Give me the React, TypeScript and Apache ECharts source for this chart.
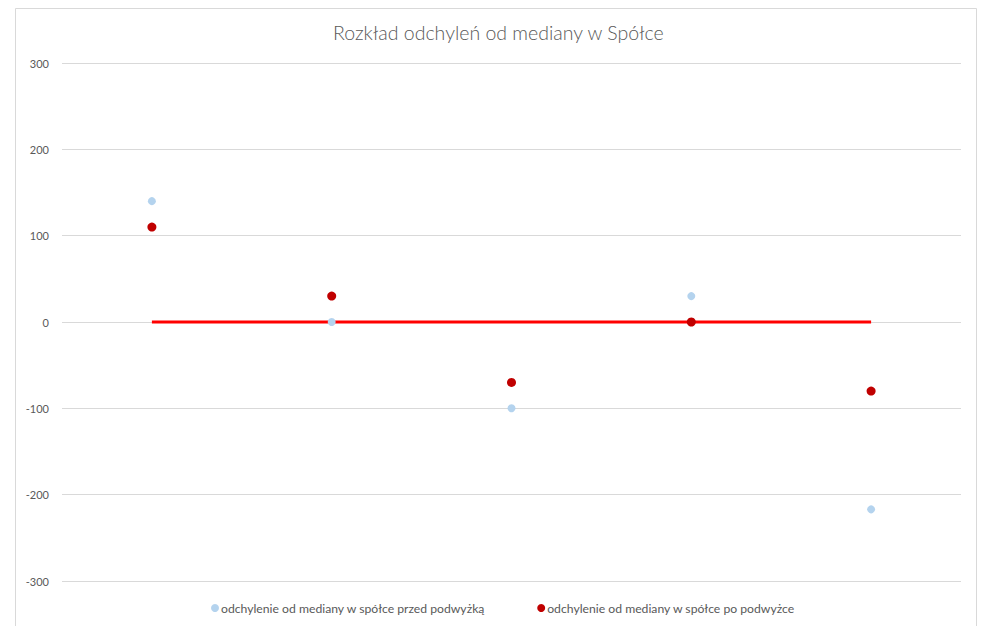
import React, { useEffect, useRef } from "react";
import * as echarts from "echarts";

const categories = ["1", "2", "3", "4", "5"];
const beforeRaise = [140, 0, -100, 30, -217];
const afterRaise = [110, 30, -70, 0, -80];
const medianLine = [0, 0, 0, 0, 0];
const yTicks = { min: -300, max: 300, interval: 100 };
const titleText = "Rozkład odchyleń od mediany w Spółce";
const seriesNames = [
  "odchylenie od mediany w spółce przed podwyżką",
  "odchylenie od mediany w spółce po podwyżce",
];

export default function App() {
  const ref = useRef<HTMLDivElement>(null);
  useEffect(() => {
    const chart = echarts.init(ref.current!, null, { renderer: "svg" });
    const font = "Lato, 'Open Sans', sans-serif";
    chart.setOption({
      animation: false,
      backgroundColor: "#ffffff",
      textStyle: { fontFamily: font },
      title: {
        text: titleText,
        left: 333,
        top: 22,
        padding: 0,
        textStyle: { fontFamily: font, fontSize: 19.5, fontWeight: 300, color: "#595959" },
      },
      graphic: [
        {
          type: "rect",
          shape: { x: 15.5, y: 8.5, width: 961, height: 640 },
          style: { fill: "none", stroke: "#d9d9d9", lineWidth: 1 },
          silent: true,
        },
      ],
      legend: {
        bottom: 7,
        left: 206,
        itemGap: 52,
        itemWidth: 8,
        itemHeight: 8,
        icon: "circle",
        textStyle: { fontFamily: font, fontSize: 12.2, color: "#595959", padding: [0, 0, 0, -3] },
        data: seriesNames,
      },
      grid: { left: 62, right: 21, top: 63, bottom: 45, containLabel: false },
      xAxis: {
        type: "category",
        data: categories,
        boundaryGap: true,
        axisLine: { show: false },
        axisTick: { show: false },
        axisLabel: { show: false },
        splitLine: { show: false },
      },
      yAxis: {
        type: "value",
        min: yTicks.min,
        max: yTicks.max,
        interval: yTicks.interval,
        axisLine: { show: false },
        axisTick: { show: false },
        axisLabel: { color: "#595959", fontSize: 11, fontFamily: font, margin: 13 },
        splitLine: { lineStyle: { color: "#d9d9d9", width: 1 } },
      },
      series: [
        {
          name: "median",
          type: "line",
          data: medianLine,
          symbol: "none",
          lineStyle: { color: "#ff0000", width: 3 },
          z: 1,
        },
        {
          name: seriesNames[0],
          type: "scatter",
          data: beforeRaise,
          symbolSize: 8,
          itemStyle: { color: "#b4d3ee", opacity: 1 },
          z: 2,
        },
        {
          name: seriesNames[1],
          type: "scatter",
          data: afterRaise,
          symbolSize: 9,
          itemStyle: { color: "#c00000", opacity: 1 },
          z: 3,
        },
      ],
    });
    return () => chart.dispose();
  }, []);
  return (
    <div
      ref={ref}
      style={{ position: "absolute", left: 0, top: 0, width: 982, height: 626 }}
    />
  );
}
